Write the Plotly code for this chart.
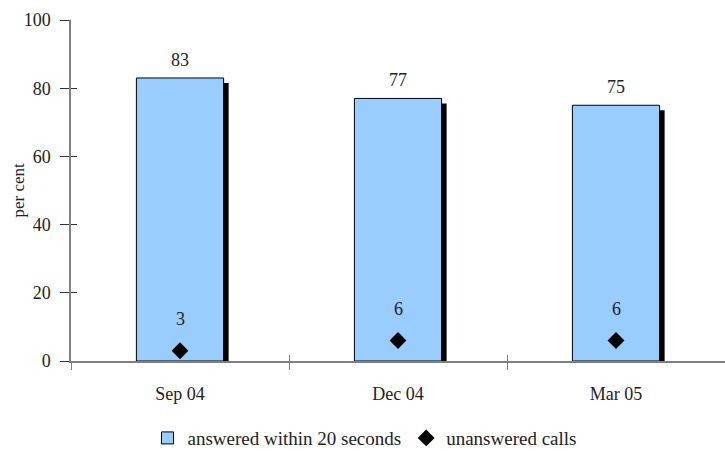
import plotly.graph_objects as go

categories = ["Sep 04", "Dec 04", "Mar 05"]
answered = [83, 77, 75]
unanswered = [3, 6, 6]
y_ticks = [0, 20, 40, 60, 80, 100]
y_title = "per cent"

FONT = "Liberation Serif"
TXT = "#222222"
AX = "#7f7f7f"
FS = 18

fig = go.Figure()

# shadow of bars
fig.add_trace(go.Bar(
    x=categories, y=[v - 1.5 for v in answered], width=0.4, offset=-0.177,
    marker=dict(color="black", line=dict(width=0)), showlegend=False,
    hoverinfo="skip",
))
fig.add_trace(go.Bar(
    x=categories, y=answered, width=0.4, name="answered within 20 seconds",
    marker=dict(color="#99CCFF", line=dict(color="black", width=1)),
))
fig.add_trace(go.Scatter(
    x=categories, y=unanswered, mode="markers", name="unanswered calls",
    marker=dict(symbol="diamond", color="black", size=13),
))
# dummy trace so that secondary axes (inside tick halves) are drawn
fig.add_trace(go.Scatter(x=categories, y=unanswered, xaxis="x2", yaxis="y2",
                         mode="markers", marker=dict(opacity=0), showlegend=False,
                         hoverinfo="skip"))

annotations = []
for c, v in zip(categories, answered):
    annotations.append(dict(x=c, y=v, text=str(v), showarrow=False, yanchor="bottom",
                            yshift=6, font=dict(family=FONT, size=FS, color=TXT)))
for c, v in zip(categories, unanswered):
    annotations.append(dict(x=c, y=v, text=str(v), showarrow=False, yanchor="bottom",
                            yshift=20, font=dict(family=FONT, size=FS, color=TXT)))
annotations.append(dict(xref="paper", yref="paper", x=-0.081, y=0.5, text=y_title,
                        textangle=-90, showarrow=False, xanchor="center", yanchor="middle",
                        font=dict(family=FONT, size=17, color=TXT)))

fig.update_layout(
    width=725, height=451,
    margin=dict(l=71, r=0, t=20, b=90, autoexpand=False),
    paper_bgcolor="white", plot_bgcolor="white",
    barmode="overlay",
    font=dict(family=FONT, size=FS, color=TXT),
    showlegend=True,
    legend=dict(orientation="h", xref="paper", yref="paper",
                x=0.4495, xanchor="center", y=-0.226, yanchor="middle",
                font=dict(family=FONT, size=19, color=TXT),
                traceorder="normal", bgcolor="rgba(0,0,0,0)"),
    annotations=annotations,
    xaxis=dict(type="category", range=[-0.5, 2.5], showline=True, linecolor=AX,
               linewidth=1.5, ticks="outside", tickson="boundaries", ticklen=7,
               tickcolor=AX, tickwidth=1, showgrid=False, zeroline=False,
               automargin=False,
               ticklabelstandoff=16, tickfont=dict(family=FONT, size=FS, color=TXT)),
    yaxis=dict(range=[0, 100], tickvals=y_ticks, showline=True, linecolor=AX,
               linewidth=1.5, ticks="outside", ticklen=9, tickcolor="#333333",
               tickwidth=1, showgrid=False, zeroline=False, ticklabelstandoff=6,
               automargin=False,
               tickfont=dict(family=FONT, size=FS, color=TXT)),
    xaxis2=dict(type="category", range=[-0.5, 2.5], overlaying="x", anchor="y2",
                ticks="inside", tickson="boundaries", ticklen=6, tickcolor=AX,
                showticklabels=False, showgrid=False, zeroline=False, showline=False),
    yaxis2=dict(range=[0, 100], tickvals=y_ticks, overlaying="y", anchor="x2", side="left",
                ticks="inside", ticklen=6, tickcolor="#333333", showticklabels=False,
                showgrid=False, zeroline=False, showline=False),
)

fig.write_html("out.html", config={"displayModeBar": False},
               post_script="document.body.style.margin='0';document.body.style.padding='0';")
